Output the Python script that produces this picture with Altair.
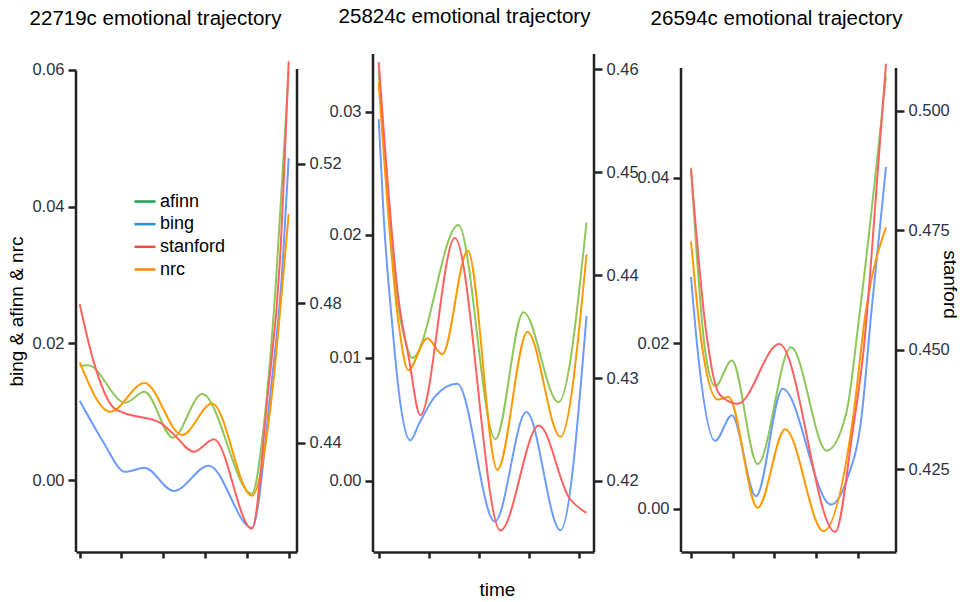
import altair as alt
import pandas as pd

SERIES = ["afinn", "bing", "stanford", "nrc"]
LINE_COLORS = ["#8fc65a", "#6b9bff", "#ff6161", "#ff9900"]
LEGEND_COLORS = ["#1f9e4c", "#1e96d6", "#f44b40", "#ff8c00"]
PANEL_TITLES = ["22719c emotional trajectory", "25824c emotional trajectory", "26594c emotional trajectory"]

# ---- Panel 1 (22719c) ----
P1_T_AFINN = [0, 0.2, 1.09, 1.55, 2.23, 2.93, 4.12, 4.40, 4.69, 5.0]
P1_V_AFINN = [0.0167, 0.0168, 0.0113, 0.0129, 0.0062, 0.0126, -0.0020, 0.0077, 0.0284, 0.0598]
P1_T_BING = [0, 0.30, 0.57, 1.09, 1.55, 2.25, 3.09, 4.12, 4.56, 4.86, 5.0]
P1_V_BING = [0.0116, 0.0083, 0.0055, 0.0012, 0.0018, -0.0016, 0.0021, -0.0070, 0.0125, 0.0320, 0.0471]
P1_T_NRC = [0, 0.73, 1.55, 2.45, 3.17, 4.12, 4.60, 4.90, 5.0]
P1_V_NRC = [0.0172, 0.0100, 0.0142, 0.0066, 0.0112, -0.0023, 0.0125, 0.0320, 0.0389]
P1_T_STANFORD = [0, 0.33, 0.81, 1.05, 1.93, 2.25, 2.73, 3.21, 4.12, 4.50, 4.79, 5.0]
P1_V_STANFORD = [0.4797, 0.4634, 0.4500, 0.4486, 0.4457, 0.4424, 0.4374, 0.4410, 0.4153, 0.4539, 0.4921, 0.5494]

# ---- Panel 2 (25824c) ----
P2_T_AFINN = [0, 0.37, 0.53, 0.67, 1.59, 2.33, 2.89, 3.59, 4.15]
P2_V_AFINN = [0.0333, 0.0148, 0.0114, 0.0100, 0.0208, 0.0034, 0.0137, 0.0064, 0.0210]
P2_T_BING = [0, 0.10, 0.27, 0.40, 0.63, 0.80, 1.13, 1.57, 2.32, 2.95, 3.63, 4.15]
P2_V_BING = [0.0294, 0.0214, 0.0127, 0.0073, 0.0033, 0.0046, 0.0069, 0.0079, -0.0033, 0.0056, -0.0040, 0.0134]
P2_T_NRC = [0, 0.40, 0.59, 0.97, 1.27, 1.78, 2.37, 2.97, 3.63, 4.15]
P2_V_NRC = [0.0324, 0.0127, 0.0090, 0.0116, 0.0103, 0.0187, 0.0009, 0.0121, 0.0036, 0.0184]
P2_T_STANFORD = [0, 0.40, 0.60, 0.83, 1.52, 2.43, 3.20, 3.80, 4.15]
P2_V_STANFORD = [0.4607, 0.4375, 0.4320, 0.4264, 0.4436, 0.4152, 0.4254, 0.4184, 0.4169]

# ---- Panel 3 (26594c) ----
P3_T_AFINN = [0, 0.34, 0.58, 0.98, 1.60, 2.40, 3.26, 3.72, 4.04, 4.68]
P3_V_AFINN = [0.0412, 0.0191, 0.0148, 0.0179, 0.0054, 0.0195, 0.0070, 0.0114, 0.0233, 0.0523]
P3_T_BING = [0, 0.16, 0.58, 0.98, 1.56, 2.20, 3.36, 3.74, 4.10, 4.32, 4.68]
P3_V_BING = [0.0280, 0.0191, 0.0082, 0.0113, 0.0015, 0.0145, 0.0005, 0.0035, 0.0114, 0.0233, 0.0413]
P3_T_NRC = [0, 0.28, 0.64, 0.90, 1.60, 2.26, 3.18, 3.90, 4.18, 4.68]
P3_V_NRC = [0.0323, 0.0191, 0.0132, 0.0135, 0.0001, 0.0096, -0.0027, 0.0114, 0.0233, 0.0340]
P3_T_STANFORD = [0, 0.36, 0.68, 1.12, 2.12, 3.46, 3.88, 4.14, 4.52, 4.68]
P3_V_STANFORD = [0.4878, 0.4540, 0.4407, 0.4387, 0.4512, 0.4119, 0.4330, 0.4498, 0.4917, 0.5099]

# axis tick values
P1_X_TICKS = [0, 1, 2, 3, 4, 5]
P1_LEFT_TICKS = [0.0, 0.02, 0.04, 0.06]
P1_RIGHT_TICKS = [0.44, 0.48, 0.52]
P2_X_TICKS = [0, 1, 2, 3, 4]
P2_LEFT_TICKS = [0.0, 0.01, 0.02, 0.03]
P2_RIGHT_TICKS = [0.42, 0.43, 0.44, 0.45, 0.46]
P3_X_TICKS = [0, 1, 2, 3, 4]
P3_LEFT_TICKS = [0.0, 0.02, 0.04]
P3_RIGHT_TICKS = [0.425, 0.45, 0.475, 0.5]

FONT = "Liberation Sans"
AX = "#222222"
LBL = "#2b3440"
H = 498
NOVIEW = alt.ViewBackground(stroke=None)


def frame(series_data):
    rows = []
    for name, ts, vs in series_data:
        for t, v in zip(ts, vs):
            rows.append({"time": t, "value": v, "series": name})
    return pd.DataFrame(rows)


def panel(i, left_df, right_df, width, xdom, xticks, ldom, lticks, lfmt, rdom, rticks, rfmt,
          ltop, rtop, ltitle, rtitle, xtitle, title_dx, with_legend):
    xaxis_kw = dict(values=xticks, labels=False, tickSize=6, tickWidth=2.5, tickColor=AX,
                    domainColor=AX, domainWidth=2.5, grid=False)
    if xtitle:
        xaxis = alt.Axis(title=xtitle, titleFont=FONT, titleFontSize=19, titleFontWeight="normal",
                         titleColor="black", titleX=124, titleY=37, titleAlign="center",
                         titleBaseline="middle", **xaxis_kw)
    else:
        xaxis = alt.Axis(title=None, **xaxis_kw)
    xenc = alt.X("time:Q", scale=alt.Scale(domain=xdom, nice=False, zero=False), axis=xaxis)

    color = alt.Color("series:N", scale=alt.Scale(domain=SERIES, range=LINE_COLORS), legend=None)

    yaxis_common = dict(tickSize=8, tickWidth=2.5, tickColor=AX, domain=False, grid=False,
                        labelFont=FONT, labelFontSize=16.5, labelColor=LBL, labelPadding=4,
                        titleFont=FONT, titleFontSize=19, titleFontWeight="normal", titleColor="black")
    if ltitle:
        laxis = alt.Axis(orient="left", values=lticks, format=lfmt, title=ltitle,
                         titleX=-60, titleY=257, titleAngle=270, titleAlign="center",
                         titleBaseline="middle", **yaxis_common)
    else:
        laxis = alt.Axis(orient="left", values=lticks, format=lfmt, title=None, **yaxis_common)
    if rtitle:
        raxis = alt.Axis(orient="right", values=rticks, format=rfmt, title=rtitle,
                         titleX=53, titleY=230, titleAngle=90, titleAlign="center",
                         titleBaseline="middle", **yaxis_common)
    else:
        raxis = alt.Axis(orient="right", values=rticks, format=rfmt, title=None, **yaxis_common)

    left = alt.Chart(left_df).mark_line(interpolate="monotone", strokeWidth=2, clip=False).encode(
        x=xenc,
        y=alt.Y("value:Q", scale=alt.Scale(domain=ldom, nice=False, zero=False), axis=laxis),
        color=color,
    )
    right = alt.Chart(right_df).mark_line(interpolate="monotone", strokeWidth=2, clip=False).encode(
        x=xenc,
        y=alt.Y("value:Q", scale=alt.Scale(domain=rdom, nice=False, zero=False), axis=raxis),
        color=color,
    )
    one = pd.DataFrame({"k": [0]})
    lrule = alt.Chart(one).mark_rule(color=AX, strokeWidth=2.5).encode(
        x=alt.value(0), y=alt.value(ltop), y2=alt.value(H))
    rrule = alt.Chart(one).mark_rule(color=AX, strokeWidth=2.5).encode(
        x=alt.value(width), y=alt.value(rtop), y2=alt.value(H))
    layers = [left, right, lrule, rrule]
    if with_legend:
        key_df = pd.DataFrame({"series": SERIES})
        key_y = alt.Y("series:N", scale=alt.Scale(type="point", domain=SERIES, range=[147.5, 215.5],
                                                  padding=0), axis=None)
        key_sym = alt.Chart(key_df).mark_rule(strokeWidth=2.5).encode(
            x=alt.value(58.5), x2=alt.value(79.5), y=key_y,
            stroke=alt.Stroke("series:N", scale=alt.Scale(domain=SERIES, range=LEGEND_COLORS),
                              legend=None),
        )
        key_txt = alt.Chart(key_df).mark_text(align="left", baseline="middle", font=FONT,
                                              fontSize=18, color="black").encode(
            x=alt.value(84), y=key_y, text="series:N",
        )
        layers += [key_sym, key_txt]

    return alt.layer(*layers).resolve_scale(y="independent").properties(
        width=width, height=H, view=NOVIEW,
        title=alt.TitleParams(PANEL_TITLES[i], font=FONT, fontSize=20.5, fontWeight="normal",
                              color="black", anchor="middle", dx=title_dx, offset=9,
                              baseline="alphabetic"),
    )


def spacer(w):
    one = pd.DataFrame({"k": [0]})
    return alt.Chart(one).mark_rule(opacity=0).encode(
        x=alt.value(0), y=alt.value(0), y2=alt.value(1)).properties(width=w, height=H, view=NOVIEW)


p1 = panel(
    0,
    frame([("afinn", P1_T_AFINN, P1_V_AFINN), ("bing", P1_T_BING, P1_V_BING), ("nrc", P1_T_NRC, P1_V_NRC)]),
    frame([("stanford", P1_T_STANFORD, P1_V_STANFORD)]),
    221, [-0.0885, 5.199], P1_X_TICKS,
    [-0.01053, 0.06233], P1_LEFT_TICKS, ".2f",
    [0.40866, 0.55146], P1_RIGHT_TICKS, ".2f",
    17, 15, "bing & afinn & nrc", None, None, -31, True,
)
p2 = panel(
    1,
    frame([("afinn", P2_T_AFINN, P2_V_AFINN), ("bing", P2_T_BING, P2_V_BING), ("nrc", P2_T_NRC, P2_V_NRC)]),
    frame([("stanford", P2_T_STANFORD, P2_V_STANFORD)]),
    221, [-0.114, 4.3], P2_X_TICKS,
    [-0.005768, 0.034687], P2_LEFT_TICKS, ".2f",
    [0.4131, 0.46149], P2_RIGHT_TICKS, ".2f",
    0, 0, None, None, "time", -19, False,
)
p3 = panel(
    2,
    frame([("afinn", P3_T_AFINN, P3_V_AFINN), ("bing", P3_T_BING, P3_V_BING), ("nrc", P3_T_NRC, P3_V_NRC)]),
    frame([("stanford", P3_T_STANFORD, P3_V_STANFORD)]),
    215, [-0.24, 4.92], P3_X_TICKS,
    [-0.005233, 0.054949], P3_LEFT_TICKS, ".2f",
    [0.40768, 0.51193], P3_RIGHT_TICKS, ".3f",
    14, 14, None, "stanford", None, -12, False,
)

chart = alt.hconcat(p1, spacer(76), p2, spacer(87), p3, spacing=0, bounds="flush").properties(
    padding={"left": 7, "top": 7, "right": 5, "bottom": 5}
).configure_view(stroke=None).configure(background="white")

chart.save("out.html", embed_options={"renderer": "svg", "actions": False})
